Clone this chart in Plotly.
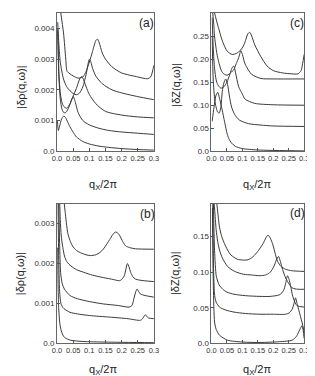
import plotly.graph_objects as go

W, H = 315, 376

# ---------------- data ----------------
# panel (a): |δρ(q,ω)|, values in units of 1e-3
a_q1 = [0.001, 0.004, 0.008, 0.014, 0.02, 0.025, 0.03, 0.04, 0.05, 0.06, 0.08, 0.1, 0.13, 0.16, 0.2, 0.25, 0.3]
a_v1 = [1.0, 0.68, 0.82, 1.05, 1.14, 1.12, 1.02, 0.8, 0.62, 0.47, 0.32, 0.24, 0.17, 0.13, 0.09, 0.06, 0.04]
a_q2 = [0.002, 0.005, 0.01, 0.015, 0.02, 0.025, 0.03, 0.04, 0.045, 0.05, 0.055, 0.065, 0.08, 0.1, 0.13, 0.16, 0.2, 0.25, 0.3]
a_v2 = [3.9, 2.6, 1.7, 1.38, 1.27, 1.25, 1.3, 1.52, 1.68, 1.78, 1.66, 1.27, 1.0, 0.86, 0.75, 0.68, 0.63, 0.59, 0.55]
a_q3 = [0.002, 0.006, 0.01, 0.015, 0.02, 0.03, 0.04, 0.05, 0.06, 0.07, 0.075, 0.08, 0.09, 0.1, 0.12, 0.15, 0.2, 0.25, 0.3]
a_v3 = [4.0, 2.5, 1.9, 1.6, 1.47, 1.4, 1.55, 1.8, 2.05, 2.35, 2.43, 2.38, 2.1, 1.85, 1.55, 1.3, 1.18, 1.12, 1.09]
a_q4 = [0.002, 0.005, 0.01, 0.02, 0.03, 0.04, 0.05, 0.06, 0.07, 0.08, 0.09, 0.1, 0.105, 0.11, 0.12, 0.14, 0.17, 0.2, 0.25, 0.3]
a_v4 = [4.2, 3.6, 2.9, 2.35, 2.1, 1.97, 1.88, 1.84, 1.9, 2.1, 2.5, 2.99, 2.9, 2.7, 2.45, 2.2, 2.0, 1.9, 1.78, 1.68]
a_q5 = [0.01, 0.02, 0.027, 0.031, 0.04, 0.05, 0.065, 0.08, 0.09, 0.1, 0.11, 0.12, 0.125, 0.13, 0.14, 0.15, 0.17, 0.2, 0.25, 0.28, 0.29, 0.3]
a_v5 = [4.6, 3.85, 3.0, 2.6, 2.52, 2.45, 2.38, 2.42, 2.6, 2.9, 3.25, 3.6, 3.65, 3.55, 3.2, 3.0, 2.75, 2.55, 2.42, 2.36, 2.42, 2.8]

# panel (b): |δρ(q,ω)|, values in units of 1e-3
b_q1 = [0.002, 0.003, 0.005, 0.008, 0.012, 0.018, 0.025, 0.043, 0.08, 0.15, 0.3]
b_v1 = [2.4, 1.5, 0.9, 0.54, 0.35, 0.21, 0.14, 0.08, 0.05, 0.035, 0.02]
b_q2 = [0.003, 0.005, 0.008, 0.012, 0.018, 0.025, 0.04, 0.063, 0.1, 0.163, 0.22, 0.258, 0.265, 0.273, 0.278, 0.283, 0.3]
b_v2 = [3.6, 2.2, 1.3, 1.0, 0.9, 0.85, 0.78, 0.74, 0.7, 0.66, 0.62, 0.58, 0.62, 0.72, 0.68, 0.64, 0.62]
b_q3 = [0.005, 0.008, 0.011, 0.016, 0.023, 0.04, 0.063, 0.1, 0.143, 0.19, 0.223, 0.232, 0.238, 0.244, 0.248, 0.253, 0.258, 0.273, 0.3]
b_v3 = [3.6, 2.5, 1.78, 1.5, 1.36, 1.2, 1.12, 1.05, 0.99, 0.95, 0.91, 0.95, 1.12, 1.3, 1.36, 1.3, 1.24, 1.2, 1.16]
b_q4 = [0.008, 0.01, 0.013, 0.018, 0.023, 0.03, 0.043, 0.06, 0.083, 0.11, 0.143, 0.175, 0.193, 0.2, 0.208, 0.213, 0.218, 0.223, 0.228, 0.235, 0.243, 0.27, 0.3]
b_v4 = [3.6, 3.1, 2.69, 2.4, 2.19, 2.05, 1.94, 1.85, 1.78, 1.71, 1.65, 1.6, 1.57, 1.6, 1.69, 1.85, 2.0, 1.92, 1.78, 1.67, 1.61, 1.57, 1.55]
b_q5 = [0.021, 0.025, 0.033, 0.04, 0.048, 0.06, 0.073, 0.09, 0.103, 0.12, 0.133, 0.143, 0.155, 0.163, 0.172, 0.181, 0.19, 0.198, 0.205, 0.213, 0.225, 0.243, 0.3]
b_v5 = [3.6, 3.3, 2.77, 2.58, 2.44, 2.33, 2.27, 2.22, 2.2, 2.22, 2.28, 2.36, 2.5, 2.6, 2.72, 2.79, 2.75, 2.64, 2.53, 2.44, 2.4, 2.37, 2.36]

# panel (c): |δZ(q,ω)|
c_q1 = [0.002, 0.008, 0.014, 0.02, 0.026, 0.033, 0.04, 0.05, 0.056, 0.065, 0.077, 0.1, 0.15, 0.3]
c_v1 = [0.065, 0.095, 0.12, 0.128, 0.115, 0.095, 0.072, 0.04, 0.028, 0.018, 0.011, 0.006, 0.003, 0.001]
c_q2 = [0.002, 0.006, 0.012, 0.02, 0.025, 0.03, 0.035, 0.04, 0.046, 0.052, 0.058, 0.065, 0.075, 0.09, 0.12, 0.16, 0.2, 0.3]
c_v2 = [0.25, 0.15, 0.105, 0.085, 0.083, 0.095, 0.13, 0.148, 0.157, 0.145, 0.12, 0.096, 0.08, 0.068, 0.06, 0.057, 0.055, 0.054]
c_q3 = [0.002, 0.006, 0.01, 0.015, 0.02, 0.03, 0.04, 0.05, 0.06, 0.066, 0.072, 0.078, 0.088, 0.1, 0.109, 0.14, 0.2, 0.3]
c_v3 = [0.29, 0.22, 0.18, 0.155, 0.145, 0.137, 0.14, 0.15, 0.168, 0.18, 0.185, 0.17, 0.14, 0.124, 0.113, 0.104, 0.101, 0.1]
c_q4 = [0.004, 0.008, 0.0094, 0.02, 0.035, 0.05, 0.065, 0.073, 0.08, 0.088, 0.095, 0.1, 0.109, 0.13, 0.16, 0.2, 0.3]
c_v4 = [0.3, 0.27, 0.252, 0.203, 0.171, 0.165, 0.172, 0.178, 0.19, 0.203, 0.218, 0.21, 0.189, 0.167, 0.158, 0.157, 0.157]
c_q5 = [0.009, 0.02, 0.036, 0.051, 0.067, 0.08, 0.095, 0.103, 0.11, 0.118, 0.124, 0.13, 0.14, 0.16, 0.18, 0.2, 0.23, 0.26, 0.28, 0.29, 0.295, 0.3]
c_v5 = [0.302, 0.274, 0.238, 0.217, 0.21, 0.212, 0.22, 0.228, 0.24, 0.255, 0.258, 0.25, 0.231, 0.205, 0.185, 0.175, 0.17, 0.168, 0.168, 0.175, 0.19, 0.21]

# panel (d): |δZ(q,ω)|
d_q1 = [0.003, 0.006, 0.01, 0.015, 0.026, 0.052, 0.1, 0.157, 0.22, 0.261, 0.275, 0.282, 0.289, 0.293, 0.297, 0.3]
d_v1 = [0.19, 0.08, 0.03, 0.02, 0.0115, 0.0046, 0.002, 0.0014, 0.0025, 0.0046, 0.01, 0.016, 0.022, 0.025, 0.018, 0.007]
d_q2 = [0.004, 0.007, 0.0104, 0.015, 0.026, 0.045, 0.073, 0.11, 0.157, 0.2, 0.24, 0.252, 0.261, 0.267, 0.272, 0.277, 0.282, 0.288, 0.293, 0.3]
d_v2 = [0.2, 0.1, 0.067, 0.058, 0.051, 0.047, 0.044, 0.042, 0.041, 0.041, 0.041, 0.043, 0.048, 0.056, 0.064, 0.056, 0.048, 0.038, 0.03, 0.016]
d_q3 = [0.006, 0.01, 0.0157, 0.025, 0.0366, 0.05, 0.073, 0.11, 0.157, 0.19, 0.219, 0.228, 0.235, 0.241, 0.246, 0.251, 0.256, 0.261, 0.266, 0.277, 0.3]
d_v3 = [0.2, 0.13, 0.094, 0.082, 0.076, 0.072, 0.069, 0.067, 0.066, 0.066, 0.068, 0.071, 0.076, 0.086, 0.095, 0.09, 0.081, 0.07, 0.062, 0.053, 0.051]
d_q4 = [0.008, 0.0104, 0.015, 0.02, 0.026, 0.035, 0.052, 0.075, 0.104, 0.13, 0.157, 0.175, 0.188, 0.197, 0.204, 0.21, 0.217, 0.223, 0.23, 0.238, 0.246, 0.261, 0.28, 0.3]
d_v4 = [0.2, 0.187, 0.16, 0.143, 0.131, 0.12, 0.108, 0.101, 0.097, 0.096, 0.095, 0.096, 0.099, 0.104, 0.11, 0.117, 0.122, 0.115, 0.104, 0.094, 0.087, 0.078, 0.076, 0.076]
d_q5 = [0.014, 0.02, 0.026, 0.033, 0.042, 0.052, 0.063, 0.084, 0.1, 0.115, 0.13, 0.146, 0.158, 0.167, 0.176, 0.183, 0.19, 0.199, 0.207, 0.214, 0.225, 0.24, 0.26, 0.3]
d_v5 = [0.21, 0.185, 0.163, 0.15, 0.14, 0.131, 0.124, 0.118, 0.117, 0.117, 0.12, 0.127, 0.134, 0.14, 0.148, 0.152, 0.148, 0.138, 0.125, 0.115, 0.108, 0.104, 0.102, 0.101]

x_tickvals = [0.0, 0.05, 0.1, 0.15, 0.2, 0.25, 0.3]
x_ticktext = ["0.0", "0.05", "0.1", "0.15", "0.2", "0.25", "0.3"]
a_tickvals = [0.0, 0.001, 0.002, 0.003, 0.004]
a_ticktext = ["0.0", "0.001", "0.002", "0.003", "0.004"]
b_tickvals = [0.0, 0.001, 0.002, 0.003]
b_ticktext = ["0.0", "0.001", "0.002", "0.003"]
c_tickvals = [0.0, 0.05, 0.10, 0.15, 0.20, 0.25]
c_ticktext = ["0.0", "0.05", "0.10", "0.15", "0.20", "0.25"]
d_tickvals = [0.0, 0.05, 0.10, 0.15]
d_ticktext = ["0.0", "0.05", "0.10", "0.15"]

SCALE_RHO = 1e-3

# ---------------- figure ----------------
fig = go.Figure()
LINE = dict(color="#3a3a3a", width=1, shape="spline", smoothing=0.7)

def add(qs, vs, ax, scale=1.0):
    fig.add_trace(go.Scatter(x=qs, y=[v * scale for v in vs], mode="lines",
                             line=LINE, xaxis="x" + ax, yaxis="y" + ax,
                             showlegend=False, hoverinfo="skip"))

for q, v in [(a_q1, a_v1), (a_q2, a_v2), (a_q3, a_v3), (a_q4, a_v4), (a_q5, a_v5)]:
    add(q, v, "", SCALE_RHO)
for q, v in [(b_q1, b_v1), (b_q2, b_v2), (b_q3, b_v3), (b_q4, b_v4), (b_q5, b_v5)]:
    add(q, v, "2", SCALE_RHO)
for q, v in [(c_q1, c_v1), (c_q2, c_v2), (c_q3, c_v3), (c_q4, c_v4), (c_q5, c_v5)]:
    add(q, v, "3")
for q, v in [(d_q1, d_v1), (d_q2, d_v2), (d_q3, d_v3), (d_q4, d_v4), (d_q5, d_v5)]:
    add(q, v, "4")

def px(x):
    return x / W

def py(y):
    return 1 - y / H

FONT = "Liberation Sans, Arial, sans-serif"
TICKFONT = dict(family=FONT, size=8, color="#333")
XTICKFONT = dict(family=FONT, size=7.5, color="#333")

def xax(left, right, anchor):
    return dict(domain=[px(left), px(right)], range=[0, 0.3], tickvals=x_tickvals,
                ticktext=x_ticktext, ticks="inside", ticklen=3, tickcolor="#555",
                showline=True, linecolor="#666", linewidth=1, mirror=True,
                showgrid=False, zeroline=False, tickfont=XTICKFONT, anchor=anchor,
                tickangle=0, fixedrange=True)

def yax(top, bottom, rng, tv, tt, anchor):
    return dict(domain=[py(bottom), py(top)], range=rng, tickvals=tv, ticktext=tt,
                ticks="inside", ticklen=3, tickcolor="#555",
                showline=True, linecolor="#666", linewidth=1, mirror=True,
                showgrid=False, zeroline=False, tickfont=TICKFONT, anchor=anchor,
                fixedrange=True)

fig.update_layout(
    width=W, height=H,
    margin=dict(l=0, r=0, t=0, b=0),
    paper_bgcolor="white", plot_bgcolor="white",
    xaxis=xax(45.5, 145.5, "y"),
    yaxis=yax(5, 145.3, [0, 0.0045], a_tickvals, a_ticktext, "x"),
    xaxis2=xax(45.5, 145.5, "y2"),
    yaxis2=yax(198.3, 340, [0, 0.0035], b_tickvals, b_ticktext, "x2"),
    xaxis3=xax(205, 300.7, "y3"),
    yaxis3=yax(5, 145.3, [0, 0.3], c_tickvals, c_ticktext, "x3"),
    xaxis4=xax(205, 300.7, "y4"),
    yaxis4=yax(198.3, 340, [0, 0.196], d_tickvals, d_ticktext, "x4"),
)

ann = []
def note(text, x, y, size, angle=0):
    ann.append(dict(text=text, x=px(x), y=py(y), xref="paper", yref="paper",
                    showarrow=False, xanchor="center", yanchor="middle",
                    textangle=angle, font=dict(family=FONT, size=size, color="#222")))

xt = "q<sub>X</sub>/2π"
note(xt, 93, 179, 11)
note(xt, 252, 179, 11)
note(xt, 93, 367, 11)
note(xt, 252, 367, 11)
note("|δρ(q,ω)|", 8, 80, 11, -90)
note("|δZ(q,ω)|", 168, 78, 11, -90)
note("|δρ(q,ω)|", 8, 269, 11, -90)
note("|δZ(q,ω)|", 168, 269, 11, -90)
note("(a)", 138, 15, 12)
note("(c)", 293, 15, 12)
note("(b)", 139, 209, 12)
note("(d)", 294, 208, 12)
fig.update_layout(annotations=ann)

fig.write_html("out.html")
